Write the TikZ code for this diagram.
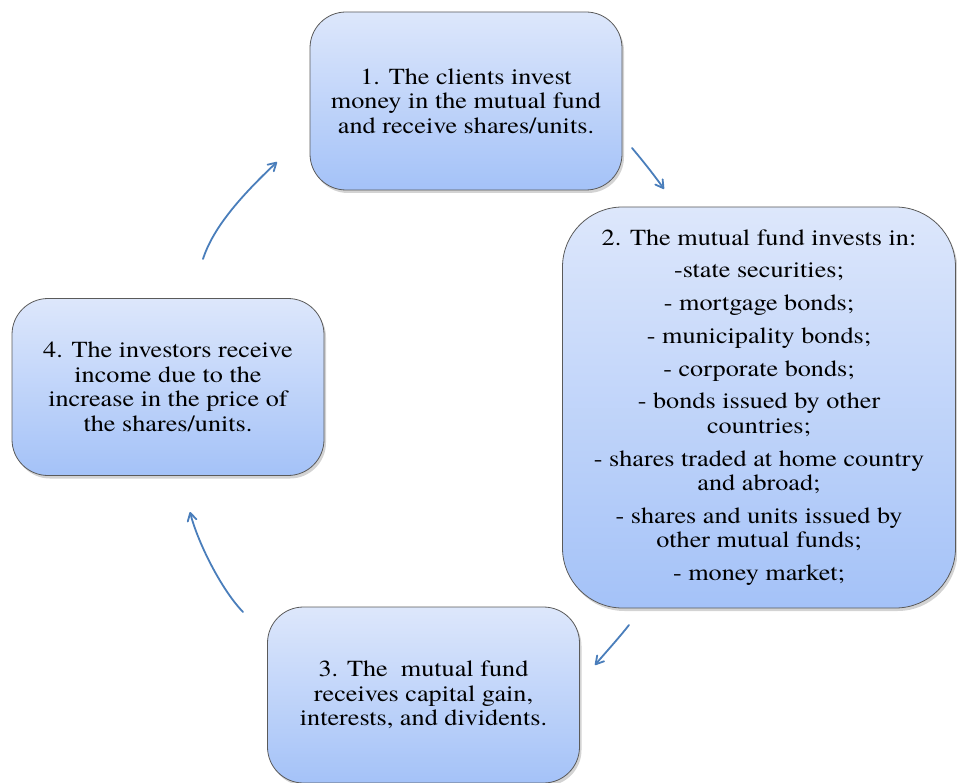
\documentclass[tikz,border=0pt]{standalone}
\usepackage{fontspec}
\setmainfont{texgyretermes-regular.otf}[FakeStretch=1.14]
\usetikzlibrary{shadows,arrows.meta}
\definecolor{boxtop}{HTML}{DDE7FB}
\definecolor{boxbot}{HTML}{A4C2F8}
\definecolor{boxline}{HTML}{5A5A5A}
\definecolor{arrowblue}{HTML}{4A7EBB}
\begin{document}
\begin{tikzpicture}[x=1pt,y=-1pt,
  box/.style={draw=boxline, line width=0.8pt, top color=boxtop, bottom color=boxbot,
    rounded corners=36pt, align=center, inner sep=0pt,
    font=\fontsize{23}{24.5}\selectfont,
    drop shadow={opacity=0.35, shadow xshift=2pt, shadow yshift=-3pt}},
  arr/.style={draw=arrowblue, line width=1.8pt, line cap=round,
    -{Straight Barb[angle=60:9pt, line width=1.8pt, round]}}]
\useasboundingbox (0,0) rectangle (957,783);

\node[box, minimum width=312pt, minimum height=178pt] (b1) at (466,101)
  {1. The clients invest\\money in the mutual fund\\and receive shares/units.};

\node[box, rounded corners=60pt, minimum width=393pt, minimum height=401pt] (b2) at (759,407.5)
  {2. The mutual fund invests in:\\[8.25pt]
   -state securities;\\[8.25pt]
   - mortgage bonds;\\[8.25pt]
   - municipality bonds;\\[8.25pt]
   - corporate bonds;\\[8.25pt]
   - bonds issued by other\\countries;\\[8.25pt]
   - shares traded at home country\\and abroad;\\[8.25pt]
   - shares and units issued by\\other mutual funds;\\[8.25pt]
   - money market;};

\node[box, minimum width=312pt, minimum height=176pt] (b3) at (423.5,695)
  {3. The\ \ mutual fund\\receives capital gain,\\interests, and dividents.};

\node[box, minimum width=312pt, minimum height=177pt] (b4) at (168,387)
  {4. The investors receive\\income due to the\\increase in the price of\\the shares/units.};

\coordinate (a1s) at (632,148);
\coordinate (a1e) at (664,189);
\coordinate (a2s) at (629,625);
\coordinate (a2e) at (595,665);
\coordinate (a3s) at (243,612);
\coordinate (a3e) at (190,512);
\coordinate (a4s) at (203,259);
\coordinate (a4e) at (277,162);

\draw[arr] (a1s) .. controls (643,161) and (654,175) .. (a1e);
\draw[arr] (a2s) .. controls (618,639) and (606,652) .. (a2e);
\draw[arr] (a3s) .. controls (220,588) and (197,540) .. (a3e);
\draw[arr] (a4s) .. controls (213,228) and (240,197) .. (a4e);
\end{tikzpicture}
\end{document}
